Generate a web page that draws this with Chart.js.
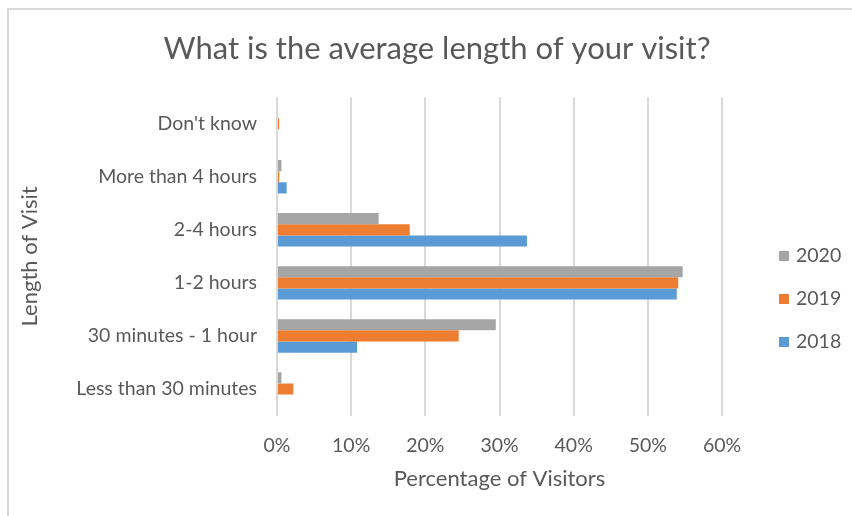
<!DOCTYPE html>
<html>
<head>
<meta charset="utf-8">
<script src="https://cdn.jsdelivr.net/npm/chart.js@4.4.1/dist/chart.umd.min.js"></script>
<style>
  html, body { margin: 0; padding: 0; background: #fff; }
  #wrap { position: relative; width: 852px; height: 516px; overflow: hidden; }
  #frame { position: absolute; left: 7px; top: 8px; right: -10px; bottom: -10px;
           border-top: 2px solid #d9d9d9; border-left: 2px solid #d9d9d9; }
  canvas { position: absolute; left: 0; top: 0; }
  #legend { position: absolute; left: 779px; top: 243px; font-family: Lato, sans-serif;
            font-size: 19.5px; color: #595959; }
  #legend div { height: 43px; line-height: 24px; white-space: nowrap; }
  #legend span.box { display: inline-block; width: 10px; height: 10px; margin-right: 7px;
                     vertical-align: 1px; }
</style>
</head>
<body>
<div id="wrap">
  <div id="frame"></div>
  <canvas id="myChart" width="852" height="516"></canvas>
  <div id="legend"></div>
</div>
<script>
"use strict";
const categories = [
  "Don't know",
  "More than 4 hours",
  "2-4 hours",
  "1-2 hours",
  "30 minutes - 1 hour",
  "Less than 30 minutes",
];
const years = ["2020", "2019", "2018"];
const values2020 = [0, 0.6, 13.7, 54.7, 29.5, 0.6];
const values2019 = [0.3, 0.3, 17.9, 54.1, 24.5, 2.2];
const values2018 = [0, 1.3, 33.7, 53.9, 10.8, 0];
const xTicks = [0, 10, 20, 30, 40, 50, 60];

const textColor = "#595959";
const font = "Lato";

const ctx = document.getElementById("myChart");

const chart = new Chart(ctx, {
  type: "bar",
  data: {
    labels: categories,
    datasets: [
      { label: years[0], data: values2020, backgroundColor: "#a5a5a5" },
      { label: years[1], data: values2019, backgroundColor: "#ed7d31" },
      { label: years[2], data: values2018, backgroundColor: "#5b9bd5" },
    ],
  },
  options: {
    indexAxis: "y",
    responsive: false,
    animation: false,
    datasets: {
      bar: { barPercentage: 1, categoryPercentage: 0.63, borderWidth: 0 },
    },
    layout: { padding: { left: 10, right: -12, top: 8, bottom: 20 } },
    plugins: {
      title: {
        display: true,
        text: "What is the average length of your visit?",
        color: textColor,
        font: { family: font, size: 31, weight: "normal" },
        padding: { top: 22, bottom: 30 },
      },
      legend: { display: false },
      tooltip: { enabled: false },
    },
    scales: {
      x: {
        min: 0,
        max: 60,
        afterBuildTicks: (scale) => {
          scale.ticks = xTicks.map((v) => ({ value: v }));
        },
        afterFit: (scale) => {
          scale.height = 80.5;
          scale.paddingRight = 130;
        },
        ticks: {
          color: textColor,
          font: { family: font, size: 19.5 },
          padding: 19,
          callback: (v) => v + "%",
        },
        grid: { color: "#d9d9d9", lineWidth: 2, drawTicks: false },
        border: { display: false },
        title: {
          display: true,
          text: "Percentage of Visitors",
          color: textColor,
          font: { family: font, size: 22 },
          padding: { top: 8 },
        },
      },
      y: {
        afterFit: (scale) => {
          scale.width = 267;
        },
        ticks: {
          color: textColor,
          font: { family: font, size: 19.5 },
          padding: 20,
        },
        grid: { display: false, drawTicks: false },
        border: { display: false },
        title: {
          display: true,
          text: "Length of Visit",
          color: textColor,
          font: { family: font, size: 22 },
          padding: { top: 7 },
        },
      },
    },
  },
});

// legend built from the chart's own datasets
const legend = document.getElementById("legend");
chart.data.datasets.forEach((ds) => {
  const row = document.createElement("div");
  const box = document.createElement("span");
  box.className = "box";
  box.style.background = ds.backgroundColor;
  row.appendChild(box);
  row.appendChild(document.createTextNode(ds.label));
  legend.appendChild(row);
});
</script>
</body>
</html>
